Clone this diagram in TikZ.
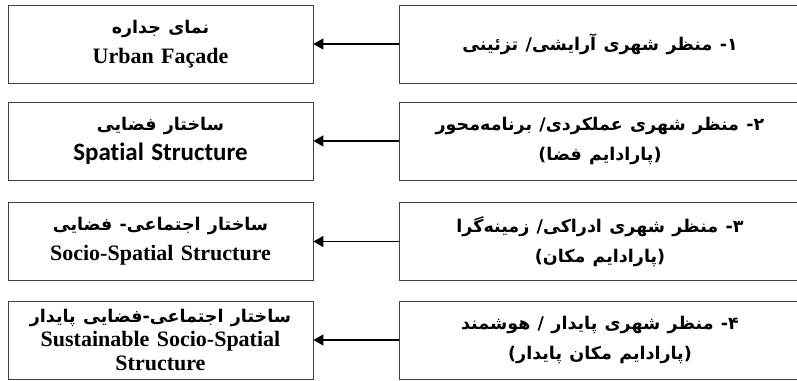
\documentclass[tikz,border=0pt]{standalone}
\usepackage{fontspec}
\usetikzlibrary{arrows.meta}
\setmainfont{Liberation Serif}
\newfontfamily\persianfont[Script=Arabic]{DejaVu Sans}
\newfontfamily\calibrifont[Ligatures=NoCommon]{Carlito}
\TeXXeTstate=1
\newcommand\fa[1]{{\persianfont\bfseries\fontsize{17.5}{30}\selectfont\beginR #1\endR}}

\begin{document}
\begin{tikzpicture}[x=1pt, y=1pt,
    leftbox/.style={draw=black!75, line width=0.8pt, minimum height=78pt,
        inner sep=0pt, text width=305pt, align=center,
        font=\fontsize{22}{30}\selectfont\bfseries},
    rightbox/.style={leftbox, text width=402pt}]
    \useasboundingbox (0,0) rectangle (797,380);
    % right column: the four kinds of urban landscape
    \node[rightbox] (m1) at (600,336) {\fa{۱- منظر شهری آرایشی/ تزئینی}};
    \node[rightbox] (m2) at (600,239) {\fa{۲- منظر شهری عملکردی/ برنامه‌محور}\\ \fa{(پارادایم فضا)}};
    \node[rightbox] (m3) at (600,138.5) {\fa{۳- منظر شهری ادراکی/ زمینه‌گرا}\\ \fa{(پارادایم مکان)}};
    \node[rightbox] (m4) at (600,40) {\fa{۴- منظر شهری پایدار / هوشمند}\\ \fa{(پارادایم مکان پایدار)}};
    % left column: what each one shapes
    \node[leftbox] (s1) at (160.5,336) {\fa{نمای جداره}\\ Urban Façade};
    \node[leftbox] (s2) at (160.5,239) {\fa{ساختار فضایی}\\ {\calibrifont\fontsize{25}{30}\selectfont Spatial Structure}};
    \node[leftbox] (s3) at (160.5,138.5) {\fa{ساختار اجتماعی- فضایی}\\ Socio-Spatial Structure};
    \node[leftbox, font=\fontsize{22}{24}\selectfont\bfseries] (s4) at (160.5,40)
        {\fa{ساختار اجتماعی-فضایی پایدار}\\ Sustainable Socio-Spatial\\ Structure};
    \foreach \i in {1,...,4}
    {
        \draw[line width=1.2pt, -{Triangle[length=10pt, width=11pt]}] (m\i.west) -- (s\i.east);
    }
\end{tikzpicture}
\end{document}
